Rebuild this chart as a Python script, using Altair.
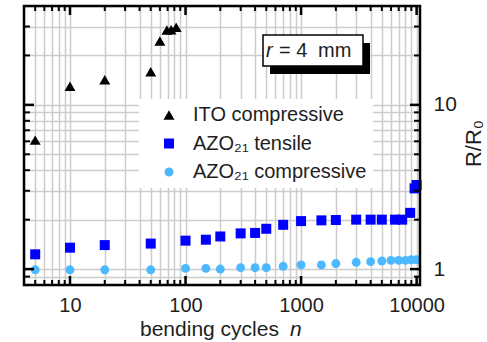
import altair as alt
import pandas as pd

# ---------------- data ----------------
series_names = ["ITO compressive", "AZO\u2082\u2081 tensile", "AZO\u2082\u2081 compressive"]
series_colors = ["#000000", "#0000ff", "#4cb8ff"]
series_shapes = ["triangle-up", "square", "circle"]
series_sizes = [120, 80, 75]

n_ito = [5, 10, 20, 50, 60, 69, 75, 83]
r_ito = [6.1, 13.0, 14.2, 15.9, 24.5, 28.6, 28.7, 29.7]

n_tens = [5, 10, 20, 50, 100, 150, 200, 300, 400, 500, 700, 1000, 1500, 2000,
          3000, 4000, 5000, 6500, 7500, 8800, 9600, 10000]
r_tens = [1.23, 1.35, 1.40, 1.43, 1.49, 1.51, 1.58, 1.65, 1.66, 1.76, 1.86, 1.96,
          1.98, 1.99, 2.0, 2.0, 2.0, 2.0, 2.0, 2.2, 3.1, 3.25]

n_comp = [5, 10, 20, 50, 100, 150, 200, 300, 400, 500, 700, 1000, 1500, 2000,
          3000, 4000, 5000, 6000, 7000, 8000, 9000, 10000]
r_comp = [0.99, 0.99, 0.99, 0.99, 1.01, 1.01, 1.0, 1.02, 1.02, 1.02, 1.04, 1.06,
          1.06, 1.08, 1.10, 1.11, 1.12, 1.13, 1.13, 1.13, 1.14, 1.14]

x_major = [10, 100, 1000, 10000]
x_minor = [4, 5, 6, 7, 8, 9, 20, 30, 40, 50, 60, 70, 80, 90,
           200, 300, 400, 500, 600, 700, 800, 900,
           2000, 3000, 4000, 5000, 6000, 7000, 8000, 9000]
y_major = [1, 10]
y_minor = [0.8, 0.9, 2, 3, 4, 5, 6, 7, 8, 9, 20, 30, 40]

x_domain = [4, 10700]
y_domain = [0.8, 40]

# ---------------- layout ----------------
W, H = 396, 279
FONT = "Liberation Sans"
TXT = "#1e1e1e"

rows = []
for name, ns, rs in [(series_names[0], n_ito, r_ito),
                     (series_names[1], n_tens, r_tens),
                     (series_names[2], n_comp, r_comp)]:
    for n, r in zip(ns, rs):
        rows.append({"n": n, "r": r, "series": name})
df = pd.DataFrame(rows)

xs = alt.Scale(type="log", domain=x_domain, nice=False)
ys = alt.Scale(type="log", domain=y_domain, nice=False)

legend = alt.Legend(
    orient="none", legendX=115, legendY=93, title=None,
    fillColor="white", padding=6, labelFont=FONT, labelFontSize=20,
    labelColor=TXT, rowPadding=8.5, symbolOffset=14, labelOffset=14,
    symbolStrokeWidth=0, labelLimit=400,
)

x_axis = alt.Axis(
    values=x_major + x_minor, grid=True, gridColor="#cccccc", gridWidth=1.5,
    domain=False, ticks=False, tickSize=0, labelFlush=False, labelOverlap=False,
    labelExpr="indexof([10,100,1000,10000], datum.value) >= 0 ? format(datum.value, 'd') : ''",
    labelFont=FONT, labelFontSize=20, labelColor=TXT, labelPadding=10, title=None,
)
y_axis = alt.Axis(
    orient="right", values=y_major + y_minor, grid=True, gridColor="#cccccc",
    gridWidth=1.5, domain=False, ticks=False, tickSize=0, labelFlush=False,
    labelOverlap=False,
    labelExpr="indexof([1,10], datum.value) >= 0 ? format(datum.value, 'd') : ''",
    labelFont=FONT, labelFontSize=21, labelColor=TXT, labelPadding=13,
    labelBaseline="middle",
    title="R/R\u2080", titleFont=FONT, titleFontSize=22, titleFontWeight="normal",
    titleColor=TXT, titleAngle=270, titleX=60, titleY=137, titleAlign="center",
    titleBaseline="alphabetic",
)

points = alt.Chart(df).mark_point(filled=True, opacity=1).encode(
    x=alt.X("n:Q", scale=xs, axis=x_axis),
    y=alt.Y("r:Q", scale=ys, axis=y_axis),
    color=alt.Color("series:N", scale=alt.Scale(domain=series_names, range=series_colors),
                    legend=legend, sort=series_names),
    shape=alt.Shape("series:N", scale=alt.Scale(domain=series_names, range=series_shapes),
                    legend=legend, sort=series_names),
    size=alt.Size("series:N", scale=alt.Scale(domain=series_names, range=series_sizes),
                  legend=legend, sort=series_names),
)

# inward ticks on all four sides (same axis objects so the layers merge)
xt_major = pd.DataFrame({"n": x_major})
xt_minor = pd.DataFrame({"n": x_minor})
yt_major = pd.DataFrame({"r": y_major})
yt_minor = pd.DataFrame({"r": y_minor})

def xticks(data, length, width):
    b = alt.Chart(data).mark_rule(color="black", strokeWidth=width)
    xe = alt.X("n:Q", scale=xs, axis=x_axis)
    bottom = b.encode(x=xe, y=alt.value(H), y2=alt.value(H - length))
    top = b.encode(x=xe, y=alt.value(0), y2=alt.value(length))
    return [bottom, top]

def yticks(data, length, width):
    b = alt.Chart(data).mark_rule(color="black", strokeWidth=width)
    ye = alt.Y("r:Q", scale=ys, axis=y_axis)
    left = b.encode(y=ye, x=alt.value(0), x2=alt.value(length))
    right = b.encode(y=ye, x=alt.value(W), x2=alt.value(W - length))
    return [left, right]

ticks = (xticks(xt_major, 9, 2.5) + xticks(xt_minor, 5, 2)
         + yticks(yt_major, 10, 2.5) + yticks(yt_minor, 6, 2))

one = pd.DataFrame({"k": [0]})
frame = alt.Chart(one).mark_rect(filled=False, stroke="black", strokeWidth=2.5).encode(
    x=alt.value(0), x2=alt.value(W), y=alt.value(0), y2=alt.value(H))

# annotation box "r = 4 mm"
shadow = alt.Chart(one).mark_rect(color="black").encode(
    x=alt.value(246), x2=alt.value(346), y=alt.value(37), y2=alt.value(68))
box = alt.Chart(one).mark_rect(fill="white", stroke="black", strokeWidth=1.5).encode(
    x=alt.value(239), x2=alt.value(339), y=alt.value(29), y2=alt.value(60))
t_r = alt.Chart(one).mark_text(text="r", font=FONT, fontSize=20, fontStyle="italic",
                               align="left", baseline="middle", color=TXT).encode(
    x=alt.value(242), y=alt.value(45))
t_eq = alt.Chart(one).mark_text(text="= 4", font=FONT, fontSize=20,
                                align="left", baseline="middle", color=TXT).encode(
    x=alt.value(255), y=alt.value(45))
t_mm = alt.Chart(one).mark_text(text="mm", font=FONT, fontSize=20,
                                align="left", baseline="middle", color=TXT).encode(
    x=alt.value(294), y=alt.value(45))

# x-axis title with italic n
xt1 = alt.Chart(one).mark_text(text="bending cycles", font=FONT, fontSize=21,
                               align="left", baseline="alphabetic", color=TXT).encode(
    x=alt.value(116), y=alt.value(330))
xt2 = alt.Chart(one).mark_text(text="n", font=FONT, fontSize=21, fontStyle="italic",
                               align="left", baseline="alphabetic", color=TXT).encode(
    x=alt.value(266), y=alt.value(330))

chart = alt.layer(points, *ticks, frame, shadow, box, t_r, t_eq, t_mm, xt1, xt2).properties(
    width=W, height=H,
    autosize=alt.AutoSizeParams(type="none"),
    padding={"left": 24, "top": 6, "right": 67, "bottom": 57},
).configure_view(stroke=None).configure(background="white")

chart.save("out.html", embed_options={"renderer": "svg", "actions": False})
